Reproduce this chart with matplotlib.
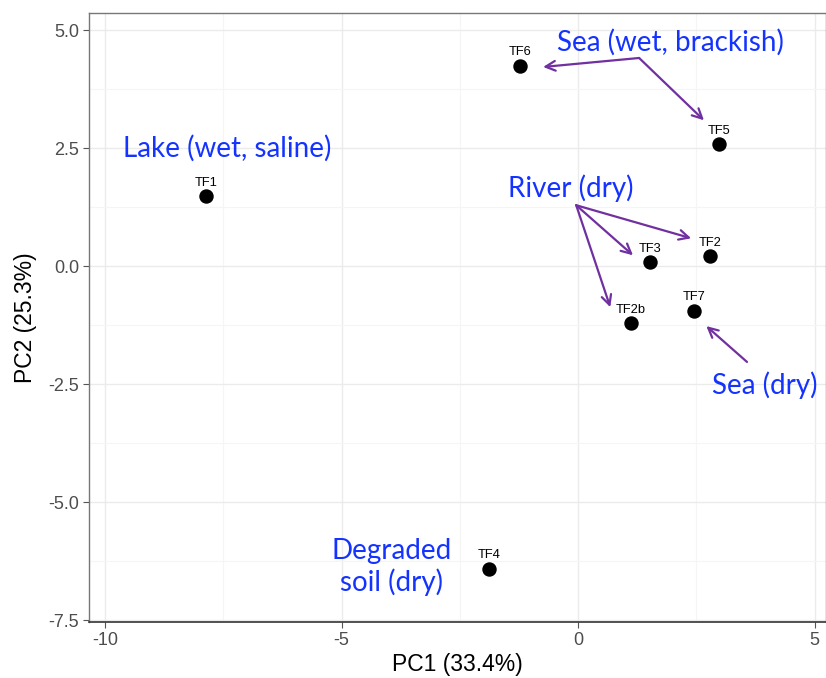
import matplotlib
matplotlib.use("Agg")
import matplotlib.pyplot as plt

# PCA scores
samples = ["TF1", "TF6", "TF5", "TF2", "TF3", "TF2b", "TF7", "TF4"]
pc1 = [-7.86, -1.23, 2.98, 2.79, 1.52, 1.12, 2.45, -1.88]
pc2 = [1.48, 4.24, 2.58, 0.21, 0.08, -1.21, -0.95, -6.42]

x_label = "PC1 (33.4%)"
y_label = "PC2 (25.3%)"
x_ticks = [-10, -5, 0, 5]
y_ticks = [-7.5, -5.0, -2.5, 0.0, 2.5, 5.0]

# group notes: text, text centre, arrow start, arrow tips
groups = [
    ("Lake (wet, saline)", (-7.41, 2.50), None, []),
    ("Sea (wet, brackish)", (1.95, 4.75), (1.29, 4.41), [(-0.74, 4.22), (2.66, 3.09)]),
    ("River (dry)", (-0.15, 1.65), (-0.04, 1.29), [(2.39, 0.59), (1.16, 0.23), (0.68, -0.87)]),
    ("Sea (dry)", (3.95, -2.52), (3.57, -2.03), [(2.71, -1.27)]),
    ("Degraded\nsoil (dry)", (-3.95, -6.38), None, []),
]

blue = "#1433ff"
purple = "#7030a0"

plt.rcParams["font.family"] = ["Liberation Sans", "DejaVu Sans"]

fig = plt.figure(figsize=(8.26, 6.78), dpi=100)
ax = fig.add_axes([0.1077, 0.0826, 0.8923, 0.898])

ax.set_xlim(-10.34, 5.24)
ax.set_ylim(-7.54, 5.36)
ax.set_xticks(x_ticks)
ax.set_yticks(y_ticks)
ax.set_xticklabels([str(t) for t in x_ticks])
ax.set_yticklabels(["%.1f" % t for t in y_ticks])
ax.set_xticks([-7.5, -2.5, 2.5], minor=True)
ax.set_yticks([-6.25, -3.75, -1.25, 1.25, 3.75], minor=True)
ax.grid(which="major", color="#ebebeb", linewidth=1.0)
ax.grid(which="minor", color="#f5f5f5", linewidth=0.8)
ax.set_axisbelow(True)
ax.tick_params(which="minor", length=0)
ax.tick_params(which="major", length=4, color="#555555", labelsize=13,
               labelcolor="#4d4d4d", pad=3)

for side in ["left", "top", "right"]:
    ax.spines[side].set_color("#777777")
    ax.spines[side].set_linewidth(1.0)
ax.spines["bottom"].set_color("#333333")
ax.spines["bottom"].set_linewidth(1.2)

ax.set_xlabel(x_label, fontsize=16.5, labelpad=3)
ax.set_ylabel(y_label, fontsize=16.5, labelpad=8)

ax.scatter(pc1, pc2, s=88, color="black", zorder=3)
for name, x, y in zip(samples, pc1, pc2):
    ax.annotate(name, (x, y), xytext=(0, 5.5), textcoords="offset points",
                ha="center", va="bottom", fontsize=9.3)

for text, pos, start, tips in groups:
    ax.text(pos[0], pos[1], text, ha="center", va="center", color=blue,
            fontsize=20, family=["Lato", "DejaVu Sans"], linespacing=1.2)
    for tip in tips:
        ax.annotate("", xy=tip, xytext=start,
                    arrowprops=dict(arrowstyle="->,head_length=0.7,head_width=0.35",
                                    color=purple, lw=1.6, shrinkA=0, shrinkB=0))

fig.savefig("out.png", dpi=100)
